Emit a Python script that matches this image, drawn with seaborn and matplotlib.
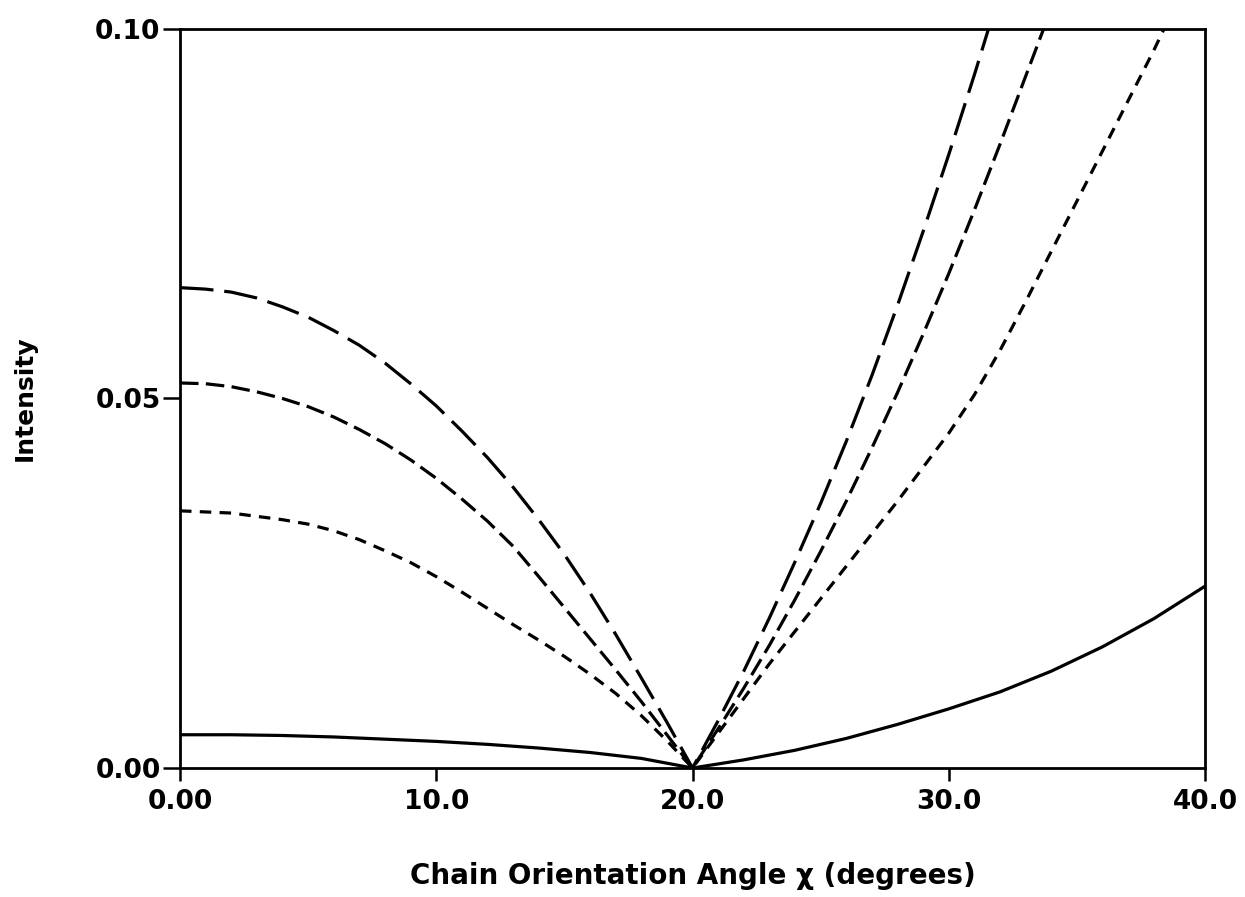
import numpy as np
import pandas as pd
import matplotlib
matplotlib.use("Agg")
import matplotlib.pyplot as plt
import seaborn as sns

# ---- data ----
long_dash_x = [0, 1, 2, 3, 4, 5, 6, 7, 8, 9, 10, 11, 12, 13, 14, 15, 16, 17, 18, 19, 20,
               21, 22, 23, 24, 25, 26, 27, 28, 29, 30, 31, 31.55]
long_dash_y = [0.0650, 0.0648, 0.0644, 0.0636, 0.0624, 0.0610, 0.0592, 0.0572, 0.0548, 0.0520, 0.0490,
               0.0456, 0.0420, 0.0380, 0.0336, 0.0289, 0.0237, 0.0181, 0.0122, 0.0062, 0.0,
               0.0064, 0.0131, 0.0203, 0.0279, 0.0358, 0.0442, 0.0531, 0.0626, 0.0726, 0.0830, 0.0938, 0.1000]

mid_dash_x = [0, 1, 2, 3, 4, 5, 6, 7, 8, 9, 10, 11, 12, 13, 14, 15, 16, 17, 18, 19, 20,
              21, 22, 23, 24, 25, 26, 27, 28, 29, 30, 31, 32, 33, 33.7]
mid_dash_y = [0.0521, 0.0520, 0.0516, 0.0509, 0.0500, 0.0489, 0.0475, 0.0458, 0.0439, 0.0417, 0.0392,
              0.0364, 0.0334, 0.0300, 0.0259, 0.0217, 0.0175, 0.0133, 0.0090, 0.0045, 0.0,
              0.0053, 0.0108, 0.0166, 0.0228, 0.0293, 0.0361, 0.0433, 0.0508, 0.0587, 0.0669, 0.0755,
              0.0844, 0.0936, 0.1000]

short_dash_x = [0, 2, 4, 5, 6, 7, 8, 9, 10, 11, 12, 13, 14, 15, 16, 17, 18, 19, 20,
                21, 22, 23, 24, 25, 26, 27, 28, 29, 30, 31, 32, 33, 34, 35, 36, 37, 38, 38.4]
short_dash_y = [0.0348, 0.0345, 0.0336, 0.0330, 0.0321, 0.0309, 0.0294, 0.0278, 0.0259, 0.0238, 0.0216,
                0.0194, 0.0173, 0.0151, 0.0127, 0.0101, 0.0071, 0.0037, 0.0,
                0.0047, 0.0094, 0.0141, 0.0185, 0.0229, 0.0273, 0.0317, 0.0361, 0.0407, 0.0453, 0.0505,
                0.0565, 0.0631, 0.0699, 0.0767, 0.0835, 0.0903, 0.0971, 0.1000]

solid_x = [0, 2, 4, 6, 8, 10, 12, 14, 16, 18, 20, 22, 24, 26, 28, 30, 32, 34, 36, 38, 40]
solid_y = [0.0045, 0.0045, 0.0044, 0.0042, 0.0039, 0.0036, 0.0032, 0.0027, 0.0021, 0.0013, 0.0,
           0.0011, 0.0024, 0.0040, 0.0059, 0.0080, 0.0103, 0.0131, 0.0164, 0.0202, 0.0246]

x_ticks = [0, 10, 20, 30, 40]
x_tick_labels = ["0.00", "10.0", "20.0", "30.0", "40.0"]
y_ticks = [0.0, 0.05, 0.10]
y_tick_labels = ["0.00", "0.05", "0.10"]

# ---- figure ----
sns.set_theme(style="ticks")
plt.rcParams["font.family"] = ["DejaVu Sans"]
plt.rcParams["font.weight"] = "bold"

fig = plt.figure(figsize=(12.45, 8.97), dpi=100)
ax = fig.add_axes([180 / 1245, 1 - 768 / 897, (1205 - 180) / 1245, (768 - 29) / 897])

lw = 2.3
series = [
    (long_dash_x, long_dash_y, (0, (10.5, 3.4))),
    (mid_dash_x, mid_dash_y, (0, (5.8, 2.3))),
    (short_dash_x, short_dash_y, (0, (3.6, 2.6))),
    (solid_x, solid_y, "-"),
]
for xs, ys, ls in series:
    df = pd.DataFrame({"x": xs, "y": ys})
    sns.lineplot(data=df, x="x", y="y", ax=ax, color="black", linewidth=lw,
                 linestyle=ls, estimator=None, sort=True)

ax.set_xlim(0, 40)
ax.set_ylim(0, 0.10)
ax.set_xticks(x_ticks)
ax.set_xticklabels(x_tick_labels, fontsize=19, fontweight="bold")
ax.set_yticks(y_ticks)
ax.set_yticklabels(y_tick_labels, fontsize=19, fontweight="bold")
ax.tick_params(axis="x", direction="out", length=9, width=1.8, pad=6, colors="black")
ax.tick_params(axis="y", direction="out", length=12, width=1.8, pad=2, colors="black")

for s in ax.spines.values():
    s.set_visible(True)
    s.set_linewidth(2.0)
    s.set_color("black")

ax.set_xlabel("Chain Orientation Angle χ (degrees)", fontsize=20, fontweight="bold", labelpad=34, color="black")
ax.set_ylabel("Intensity", fontsize=18, fontweight="bold", labelpad=42, color="black")

fig.savefig("out.png", dpi=100, facecolor="white")
